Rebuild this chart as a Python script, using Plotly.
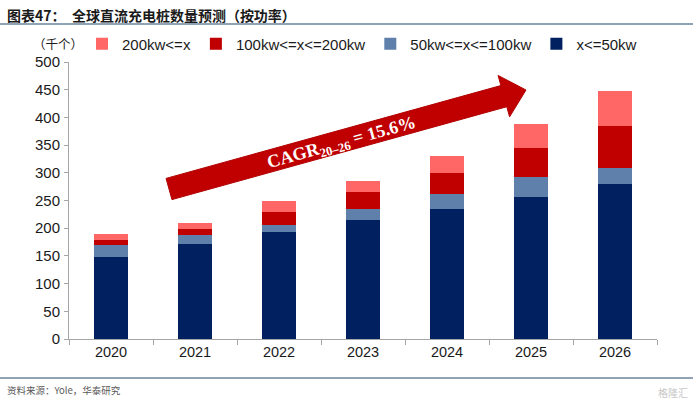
import numpy as np
import plotly.graph_objects as go

# ---- data (thousand units) ----
years = ["2020", "2021", "2022", "2023", "2024", "2025", "2026"]
le_50kw = [148, 171, 193, 215, 235, 257, 280]
kw50_100 = [22, 16, 12, 20, 27, 36, 29]
kw100_200 = [8, 12, 25, 30, 38, 52, 75]
ge_200kw = [12, 10, 20, 20, 30, 43, 64]

series_names = ["x<=50kw", "50kw<=x<=100kw", "100kw<=x<=200kw", "200kw<=x"]
series_values = [le_50kw, kw50_100, kw100_200, ge_200kw]
series_colors = ["#002060", "#5E80AA", "#C00000", "#FF6666"]

y_ticks = [0, 50, 100, 150, 200, 250, 300, 350, 400, 450, 500]

W, H = 700, 404
L, R, T, B = 69, 657, 62, 339  # plot area in pixels


def px(x):
    return (x - L) / (R - L)


def py(y):
    return (B - y) / (B - T)


fig = go.Figure()
for name, vals, col in zip(series_names, series_values, series_colors):
    fig.add_trace(go.Bar(x=years, y=vals, name=name, marker_color=col,
                         marker_line_width=0))

fig.update_layout(
    width=W, height=H,
    margin=dict(l=L, r=W - R, t=T, b=H - B, pad=0, autoexpand=False),
    barmode="stack", bargap=0.6,
    plot_bgcolor="white", paper_bgcolor="white",
    font=dict(family="Liberation Sans, Arial, sans-serif", color="#1a1a1a"),
    showlegend=True,
    legend=dict(orientation="h", traceorder="reversed",
                xref="container", yref="container",
                x=82 / W, y=1 - 44 / H, xanchor="left", yanchor="middle",
                font=dict(size=15, color="#1a1a1a"),
                bgcolor="rgba(0,0,0,0)", itemwidth=30),
)

fig.update_xaxes(type="category", showline=True, linecolor="#A6A6A6", linewidth=1,
                 ticks="outside", tickson="boundaries", ticklen=5, tickcolor="#A6A6A6",
                 tickfont=dict(size=14.5, color="#1a1a1a"), showgrid=False)
fig.update_yaxes(range=[0, 500], tickvals=y_ticks, showline=True, linecolor="#A6A6A6",
                 linewidth=1, ticks="outside", ticklen=4, tickcolor="#A6A6A6",
                 tickfont=dict(size=15, color="#1a1a1a"), showgrid=False,
                 zeroline=False, ticklabelstandoff=1)

# ---- CAGR arrow (decoration, pixel geometry) ----
tail = np.array([169.0, 189.0])
tip = np.array([526.0, 90.0])
d = tip - tail
u = d / np.linalg.norm(d)
n = np.array([-u[1], u[0]])
hw, hh, hl = 11.0, 21.5, 23.0
base = tip - u * hl
pts = [tail + n * hw, base + n * hw, base + n * hh, tip,
       base - n * hh, base - n * hw, tail - n * hw]
path = "M " + " L ".join(f"{px(p[0]):.5f},{py(p[1]):.5f}" for p in pts) + " Z"
fig.add_shape(type="path", path=path, xref="paper", yref="paper",
              fillcolor="#C00000", line=dict(color="#B00000", width=1), layer="above")

angle = float(np.degrees(np.arctan2(d[1], d[0])))
fig.add_annotation(x=px(341), y=py(143), xref="paper", yref="paper",
                   text="<b>CAGR<sub>20–26</sub> = 15.6%</b>", showarrow=False,
                   textangle=angle, xanchor="center", yanchor="middle",
                   font=dict(family="Liberation Serif, DejaVu Serif, serif", size=18,
                             color="white"))

# ---- title, unit, source ----
def note(x, y, text, size, color, anchor="left", bold=False):
    fig.add_annotation(x=px(x), y=py(y), xref="paper", yref="paper",
                       text=f"<b>{text}</b>" if bold else text, showarrow=False,
                       xanchor=anchor, yanchor="middle",
                       font=dict(family="Noto Sans CJK SC", size=size, color=color))


note(5, 15, "图表47：  全球直流充电桩数量预测（按功率）", 14, "#1a1a1a", bold=True)
note(58, 44, "（千个）", 12.5, "#1a1a1a", anchor="center")
note(5, 390, "资料来源：Yole，华泰研究", 9.5, "#595959")
note(690, 392, "格隆汇", 10, "#C8C8C8", anchor="right")

for yy in (24, 378):
    fig.add_shape(type="line", xref="paper", yref="paper",
                  x0=px(0), x1=px(693), y0=py(yy), y1=py(yy),
                  line=dict(color="#8FA2B6", width=2))

fig.write_html("out.html", config={"displayModeBar": False},
               post_script="document.body.style.margin='0';")
